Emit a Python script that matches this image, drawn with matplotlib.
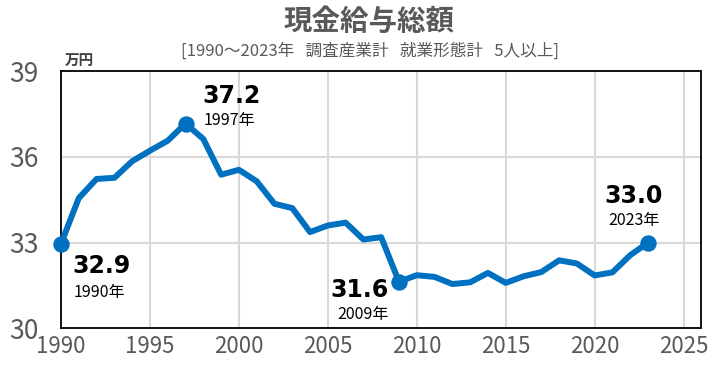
import matplotlib
matplotlib.use('Agg')
import matplotlib.pyplot as plt

plt.rcParams['font.family'] = ['Noto Sans CJK JP', 'DejaVu Sans']

# data (万円)
years = list(range(1990, 2024))
values = [32.96, 34.56, 35.23, 35.27, 35.85, 36.22, 36.57, 37.17, 36.63, 35.38,
          35.55, 35.15, 34.36, 34.21, 33.37, 33.60, 33.70, 33.11, 33.19, 31.63,
          31.86, 31.80, 31.55, 31.61, 31.94, 31.59, 31.82, 31.97, 32.38, 32.27,
          31.85, 31.96, 32.56, 33.00]
x_ticks = [1990, 1995, 2000, 2005, 2010, 2015, 2020, 2025]
y_ticks = [30, 33, 36, 39]

# highlighted points: year, value label, offset of value text, offset of year text, alignment
marks = [
    (1990, '32.9', (11, -22), (13, -49), 'left'),
    (1997, '37.2', (17, 28), (18, 3), 'left'),
    (2009, '31.6', (-10, -8), (-10, -33), 'right'),
    (2023, '33.0', (-14, 47), (-14, 22), 'center'),
]

blue = '#0070C0'
gray = '#595959'

fig = plt.figure(figsize=(7.21, 3.70), dpi=100)
ax = fig.add_axes([61 / 721, 1 - 328.3 / 370, 639.5 / 721, 257 / 370])

ax.plot(years, values, color=blue, lw=4.3, solid_joinstyle='round',
        solid_capstyle='round', zorder=3, clip_on=False)

for yr, lab, off_v, off_y, ha in marks:
    v = values[years.index(yr)]
    ax.plot(yr, v, 'o', color=blue, ms=10.8, zorder=4, clip_on=False)
    ax.annotate(lab, (yr, v), xytext=off_v, textcoords='offset pixels',
                ha=ha, va='center', fontsize=17, fontweight='bold',
                family='DejaVu Sans', color='black', zorder=5)
    ax.annotate(f'{yr}年', (yr, v), xytext=off_y, textcoords='offset pixels',
                ha=ha, va='center', fontsize=11.5, color='black', zorder=5)

ax.set_xlim(1990, 2025.95)
ax.set_ylim(30, 39)
ax.set_xticks(x_ticks)
ax.set_yticks(y_ticks)
ax.tick_params(length=0, labelcolor=gray)
ax.tick_params(axis='y', labelsize=19, pad=16)
ax.tick_params(axis='x', labelsize=16, pad=5)
ax.grid(True, color='#d9d9d9', lw=1.5, zorder=0)
ax.set_axisbelow(True)
for s in ax.spines.values():
    s.set_color('black')
    s.set_linewidth(1.3)

fig.text(65 / 721, 1 - 60 / 370, '万円', fontsize=10.5, fontweight='bold',
         color='#404040', ha='left', va='center')
fig.text(369 / 721, 1 - 22 / 370, '現金給与総額', fontsize=20.5, fontweight='bold',
         color=gray, ha='center', va='center')
fig.text(370 / 721, 1 - 51 / 370, '[1990～2023年   調査産業計   就業形態計   5人以上]',
         fontsize=12, color=gray, ha='center', va='center')

fig.savefig('out.png', dpi=100)
